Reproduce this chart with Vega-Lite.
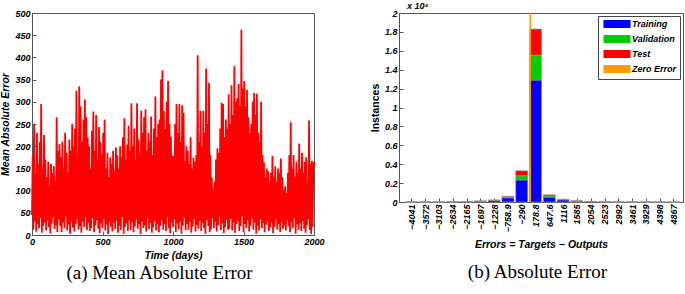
{
"$schema": "https://vega.github.io/schema/vega-lite/v6.json",
"background": "white",
"padding": {"left": 0, "top": 1, "right": 0, "bottom": 0},
"config": {
  "font": "Liberation Sans",
  "view": {"stroke": "#555", "strokeWidth": 1},
  "axis": {"labelFont": "Liberation Sans", "labelFontSize": 9, "labelFontStyle": "italic", "labelFontWeight": "bold", "labelColor": "black",
           "titleFont": "Liberation Sans", "titleFontSize": 10.5, "titleFontStyle": "italic", "titleFontWeight": "bold", "titleColor": "black",
           "grid": false, "tickSize": -4, "tickColor": "#555", "domainColor": "#555", "labelPadding": 6, "titlePadding": 4, "labelFlush": false, "labelOverlap": false}
},
"resolve": {"scale": {"color": "independent"}, "legend": {"color": "independent"}},
"spacing": 44,
"hconcat": [
{
  "width": 282, "height": 222,
  "title": {"text": "(a) Mean Absolute Error", "orient": "bottom", "font": "Liberation Serif", "fontSize": 19, "fontWeight": "normal", "fontStyle": "normal", "color": "black", "offset": 3, "anchor": "middle", "dx": -13.5},
  "data": {"values": [
{"d":0,"v":45},{"d":5,"v":180},{"d":10,"v":12},{"d":15,"v":250},{"d":20,"v":30},{"d":25,"v":140},{"d":30,"v":8},{"d":35,"v":230},{"d":40,"v":25},{"d":45,"v":160},{"d":50,"v":15},{"d":55,"v":210},{"d":60,"v":38},{"d":65,"v":295},{"d":70,"v":5},{"d":75,"v":150},{"d":80,"v":20},{"d":85,"v":225},{"d":90,"v":28},{"d":95,"v":170},
{"d":100,"v":10},{"d":105,"v":130},{"d":110,"v":32},{"d":115,"v":165},{"d":120,"v":18},{"d":125,"v":110},{"d":130,"v":4},{"d":135,"v":160},{"d":140,"v":26},{"d":145,"v":140},{"d":150,"v":40},{"d":155,"v":155},{"d":160,"v":14},{"d":165,"v":120},{"d":170,"v":22},{"d":175,"v":265},{"d":180,"v":7},{"d":185,"v":190},{"d":190,"v":35},{"d":195,"v":205},
{"d":200,"v":20},{"d":205,"v":175},{"d":210,"v":6},{"d":215,"v":210},{"d":220,"v":28},{"d":225,"v":150},{"d":230,"v":15},{"d":235,"v":230},{"d":240,"v":42},{"d":245,"v":185},{"d":250,"v":10},{"d":255,"v":140},{"d":260,"v":24},{"d":265,"v":215},{"d":270,"v":3},{"d":275,"v":190},{"d":280,"v":30},{"d":285,"v":250},{"d":290,"v":17},{"d":295,"v":200},
{"d":300,"v":8},{"d":305,"v":240},{"d":310,"v":25},{"d":315,"v":325},{"d":320,"v":35},{"d":325,"v":180},{"d":330,"v":12},{"d":335,"v":335},{"d":340,"v":20},{"d":345,"v":290},{"d":350,"v":5},{"d":355,"v":210},{"d":360,"v":30},{"d":365,"v":260},{"d":370,"v":18},{"d":375,"v":305},{"d":380,"v":40},{"d":385,"v":265},{"d":390,"v":11},{"d":395,"v":220},
{"d":400,"v":27},{"d":405,"v":200},{"d":410,"v":9},{"d":415,"v":150},{"d":420,"v":16},{"d":425,"v":235},{"d":430,"v":38},{"d":435,"v":278},{"d":440,"v":6},{"d":445,"v":190},{"d":450,"v":22},{"d":455,"v":270},{"d":460,"v":33},{"d":465,"v":170},{"d":470,"v":14},{"d":475,"v":243},{"d":480,"v":4},{"d":485,"v":210},{"d":490,"v":26},{"d":495,"v":180},
{"d":500,"v":15},{"d":505,"v":230},{"d":510,"v":36},{"d":515,"v":260},{"d":520,"v":10},{"d":525,"v":150},{"d":530,"v":24},{"d":535,"v":185},{"d":540,"v":2},{"d":545,"v":130},{"d":550,"v":30},{"d":555,"v":175},{"d":560,"v":19},{"d":565,"v":160},{"d":570,"v":8},{"d":575,"v":190},{"d":580,"v":28},{"d":585,"v":145},{"d":590,"v":13},{"d":595,"v":197},
{"d":600,"v":32},{"d":605,"v":180},{"d":610,"v":5},{"d":615,"v":150},{"d":620,"v":21},{"d":625,"v":200},{"d":630,"v":12},{"d":635,"v":175},{"d":640,"v":40},{"d":645,"v":220},{"d":650,"v":3},{"d":655,"v":263},{"d":660,"v":18},{"d":665,"v":170},{"d":670,"v":26},{"d":675,"v":204},{"d":680,"v":9},{"d":685,"v":246},{"d":690,"v":34},{"d":695,"v":190},
{"d":700,"v":11},{"d":705,"v":297},{"d":710,"v":28},{"d":715,"v":200},{"d":720,"v":6},{"d":725,"v":240},{"d":730,"v":19},{"d":735,"v":170},{"d":740,"v":35},{"d":745,"v":297},{"d":750,"v":14},{"d":755,"v":215},{"d":760,"v":24},{"d":765,"v":185},{"d":770,"v":2},{"d":775,"v":280},{"d":780,"v":30},{"d":785,"v":230},{"d":790,"v":16},{"d":795,"v":265},
{"d":800,"v":22},{"d":805,"v":283},{"d":810,"v":8},{"d":815,"v":190},{"d":820,"v":38},{"d":825,"v":230},{"d":830,"v":13},{"d":835,"v":210},{"d":840,"v":27},{"d":845,"v":267},{"d":850,"v":5},{"d":855,"v":180},{"d":860,"v":17},{"d":865,"v":240},{"d":870,"v":31},{"d":875,"v":312},{"d":880,"v":10},{"d":885,"v":220},{"d":890,"v":25},{"d":895,"v":250},
{"d":900,"v":6},{"d":905,"v":260},{"d":910,"v":20},{"d":915,"v":350},{"d":920,"v":33},{"d":925,"v":371},{"d":930,"v":12},{"d":935,"v":280},{"d":940,"v":24},{"d":945,"v":240},{"d":950,"v":9},{"d":955,"v":300},{"d":960,"v":40},{"d":965,"v":347},{"d":970,"v":15},{"d":975,"v":250},{"d":980,"v":4},{"d":985,"v":222},{"d":990,"v":29},{"d":995,"v":178},
{"d":1000,"v":18},{"d":1005,"v":178},{"d":1010,"v":35},{"d":1015,"v":250},{"d":1020,"v":7},{"d":1025,"v":295},{"d":1030,"v":26},{"d":1035,"v":230},{"d":1040,"v":13},{"d":1045,"v":295},{"d":1050,"v":30},{"d":1055,"v":210},{"d":1060,"v":3},{"d":1065,"v":292},{"d":1070,"v":21},{"d":1075,"v":275},{"d":1080,"v":38},{"d":1085,"v":166},{"d":1090,"v":10},{"d":1095,"v":200},
{"d":1100,"v":25},{"d":1105,"v":190},{"d":1110,"v":12},{"d":1115,"v":160},{"d":1120,"v":30},{"d":1125,"v":220},{"d":1130,"v":5},{"d":1135,"v":150},{"d":1140,"v":19},{"d":1145,"v":174},{"d":1150,"v":36},{"d":1155,"v":165},{"d":1160,"v":8},{"d":1165,"v":180},{"d":1170,"v":23},{"d":1175,"v":405},{"d":1180,"v":14},{"d":1185,"v":210},{"d":1190,"v":32},{"d":1195,"v":280},
{"d":1200,"v":9},{"d":1205,"v":200},{"d":1210,"v":27},{"d":1215,"v":280},{"d":1220,"v":16},{"d":1225,"v":230},{"d":1230,"v":3},{"d":1235,"v":375},{"d":1240,"v":33},{"d":1245,"v":250},{"d":1250,"v":20},{"d":1255,"v":343},{"d":1260,"v":6},{"d":1265,"v":180},{"d":1270,"v":13},{"d":1275,"v":130},{"d":1280,"v":38},{"d":1285,"v":104},{"d":1290,"v":15},{"d":1295,"v":120},
{"d":1300,"v":30},{"d":1305,"v":170},{"d":1310,"v":8},{"d":1315,"v":195},{"d":1320,"v":22},{"d":1325,"v":185},{"d":1330,"v":40},{"d":1335,"v":240},{"d":1340,"v":11},{"d":1345,"v":298},{"d":1350,"v":26},{"d":1355,"v":295},{"d":1360,"v":4},{"d":1365,"v":220},{"d":1370,"v":18},{"d":1375,"v":260},{"d":1380,"v":34},{"d":1385,"v":240},{"d":1390,"v":12},{"d":1395,"v":317},
{"d":1400,"v":14},{"d":1405,"v":250},{"d":1410,"v":36},{"d":1415,"v":337},{"d":1420,"v":10},{"d":1425,"v":270},{"d":1430,"v":28},{"d":1435,"v":380},{"d":1440,"v":5},{"d":1445,"v":300},{"d":1450,"v":24},{"d":1455,"v":308},{"d":1460,"v":32},{"d":1465,"v":340},{"d":1470,"v":9},{"d":1475,"v":290},{"d":1480,"v":20},{"d":1485,"v":462},{"d":1490,"v":42},{"d":1495,"v":330},
{"d":1500,"v":6},{"d":1505,"v":347},{"d":1510,"v":25},{"d":1515,"v":290},{"d":1520,"v":16},{"d":1525,"v":327},{"d":1530,"v":33},{"d":1535,"v":265},{"d":1540,"v":8},{"d":1545,"v":230},{"d":1550,"v":21},{"d":1555,"v":250},{"d":1560,"v":38},{"d":1565,"v":300},{"d":1570,"v":12},{"d":1575,"v":320},{"d":1580,"v":28},{"d":1585,"v":270},{"d":1590,"v":3},{"d":1595,"v":318},
{"d":1600,"v":20},{"d":1605,"v":230},{"d":1610,"v":10},{"d":1615,"v":210},{"d":1620,"v":35},{"d":1625,"v":300},{"d":1630,"v":15},{"d":1635,"v":180},{"d":1640,"v":27},{"d":1645,"v":164},{"d":1650,"v":6},{"d":1655,"v":130},{"d":1660,"v":23},{"d":1665,"v":150},{"d":1670,"v":31},{"d":1675,"v":143},{"d":1680,"v":9},{"d":1685,"v":120},{"d":1690,"v":17},{"d":1695,"v":140},
{"d":1700,"v":28},{"d":1705,"v":178},{"d":1710,"v":4},{"d":1715,"v":130},{"d":1720,"v":18},{"d":1725,"v":155},{"d":1730,"v":36},{"d":1735,"v":120},{"d":1740,"v":12},{"d":1745,"v":150},{"d":1750,"v":25},{"d":1755,"v":140},{"d":1760,"v":7},{"d":1765,"v":172},{"d":1770,"v":30},{"d":1775,"v":130},{"d":1780,"v":14},{"d":1785,"v":100},{"d":1790,"v":22},{"d":1795,"v":110},
{"d":1800,"v":10},{"d":1805,"v":95},{"d":1810,"v":33},{"d":1815,"v":140},{"d":1820,"v":20},{"d":1825,"v":180},{"d":1830,"v":6},{"d":1835,"v":254},{"d":1840,"v":29},{"d":1845,"v":150},{"d":1850,"v":15},{"d":1855,"v":180},{"d":1860,"v":38},{"d":1865,"v":130},{"d":1870,"v":3},{"d":1875,"v":165},{"d":1880,"v":24},{"d":1885,"v":140},{"d":1890,"v":12},{"d":1895,"v":206},
{"d":1900,"v":26},{"d":1905,"v":150},{"d":1910,"v":9},{"d":1915,"v":185},{"d":1920,"v":31},{"d":1925,"v":140},{"d":1930,"v":14},{"d":1935,"v":165},{"d":1940,"v":5},{"d":1945,"v":175},{"d":1950,"v":22},{"d":1955,"v":120},{"d":1960,"v":35},{"d":1965,"v":258},{"d":1970,"v":11},{"d":1975,"v":160},{"d":1980,"v":2},{"d":1985,"v":167},{"d":1990,"v":18},{"d":1995,"v":150},
{"d":2000,"v":165}
  ]},
  "mark": {"type": "line", "color": "#FF0000", "strokeWidth": 1.8},
  "encoding": {
    "x": {"field": "d", "type": "quantitative", "scale": {"domain": [0, 2000], "nice": false}, "axis": {"values": [0, 500, 1000, 1500, 2000], "format": "d", "title": "Time (days)"}},
    "y": {"field": "v", "type": "quantitative", "scale": {"domain": [0, 500], "nice": false}, "axis": {"values": [0, 50, 100, 150, 200, 250, 300, 350, 400, 450, 500], "format": "d", "title": "Mean Absolute Error"}}
  }
},
{
  "width": 284, "height": 189,
  "title": {"text": "(b) Absolute Error", "orient": "bottom", "font": "Liberation Serif", "fontSize": 19, "fontWeight": "normal", "fontStyle": "normal", "color": "black", "offset": 13, "anchor": "middle", "dx": -3.5},
  "encoding": {
    "x": {"field": "e", "type": "quantitative", "scale": {"domain": [-4290, 5020], "nice": false, "zero": false},
          "axis": {"values": [-4041, -3572, -3103, -2634, -2165, -1697, -1228, -758.9, -290, 178.8, 647.6, 1116, 1585, 2054, 2523, 2992, 3461, 3929, 4398, 4867],
                   "labelAngle": -90, "labelOverlap": false, "labelExpr": "replace(toString(datum.value), '-', '−')", "title": "Errors = Targets − Outputs", "titlePadding": 8}},
    "y": {"field": "n", "type": "quantitative", "scale": {"domain": [0, 20000], "nice": false},
          "axis": {"values": [0, 2000, 4000, 6000, 8000, 10000, 12000, 14000, 16000, 18000, 20000], "labelOverlap": false, "labelExpr": "format(datum.value / 10000, '~g')", "title": "Instances", "titleFontStyle": "normal"}}
  },
  "layer": [
    {"data": {"values": [
{"e":-4041,"s":"Training","n":5},{"e":-4041,"s":"Validation","n":1},{"e":-4041,"s":"Test","n":1},
{"e":-3572,"s":"Training","n":8},{"e":-3572,"s":"Validation","n":2},{"e":-3572,"s":"Test","n":1},
{"e":-3103,"s":"Training","n":12},{"e":-3103,"s":"Validation","n":2},{"e":-3103,"s":"Test","n":2},
{"e":-2634,"s":"Training","n":20},{"e":-2634,"s":"Validation","n":4},{"e":-2634,"s":"Test","n":3},
{"e":-2165,"s":"Training","n":35},{"e":-2165,"s":"Validation","n":6},{"e":-2165,"s":"Test","n":6},
{"e":-1697,"s":"Training","n":80},{"e":-1697,"s":"Validation","n":12},{"e":-1697,"s":"Test","n":12},
{"e":-1228,"s":"Training","n":160},{"e":-1228,"s":"Validation","n":25},{"e":-1228,"s":"Test","n":25},
{"e":-758.9,"s":"Training","n":450},{"e":-758.9,"s":"Validation","n":80},{"e":-758.9,"s":"Test","n":70},
{"e":-290,"s":"Training","n":2330},{"e":-290,"s":"Validation","n":450},{"e":-290,"s":"Test","n":520},
{"e":178.8,"s":"Training","n":12900},{"e":178.8,"s":"Validation","n":2650},{"e":178.8,"s":"Test","n":2750},
{"e":647.6,"s":"Training","n":520},{"e":647.6,"s":"Validation","n":130},{"e":647.6,"s":"Test","n":120},
{"e":1116,"s":"Training","n":220},{"e":1116,"s":"Validation","n":40},{"e":1116,"s":"Test","n":30},
{"e":1585,"s":"Training","n":90},{"e":1585,"s":"Validation","n":15},{"e":1585,"s":"Test","n":15},
{"e":2054,"s":"Training","n":45},{"e":2054,"s":"Validation","n":8},{"e":2054,"s":"Test","n":7},
{"e":2523,"s":"Training","n":20},{"e":2523,"s":"Validation","n":4},{"e":2523,"s":"Test","n":3},
{"e":2992,"s":"Training","n":10},{"e":2992,"s":"Validation","n":2},{"e":2992,"s":"Test","n":2},
{"e":3461,"s":"Training","n":6},{"e":3461,"s":"Validation","n":1},{"e":3461,"s":"Test","n":1},
{"e":3929,"s":"Training","n":4},{"e":3929,"s":"Validation","n":1},{"e":3929,"s":"Test","n":1},
{"e":4398,"s":"Training","n":3},{"e":4398,"s":"Validation","n":1},{"e":4398,"s":"Test","n":0},
{"e":4867,"s":"Training","n":2},{"e":4867,"s":"Validation","n":0},{"e":4867,"s":"Test","n":0}
     ]},
     "transform": [{"calculate": "indexof(['Training', 'Validation', 'Test'], datum.s)", "as": "k"}],
     "mark": {"type": "bar", "width": 12, "stroke": "#999", "strokeWidth": 0.6},
     "encoding": {
       "order": {"field": "k", "type": "quantitative"},
       "color": {"field": "s", "type": "nominal",
                 "scale": {"domain": ["Training", "Validation", "Test", "Zero Error"], "range": ["#0000FF", "#00CC00", "#FF0000", "#FF9900"]},
                 "legend": {"title": null, "orient": "top-right", "offset": 3, "strokeColor": "#444", "fillColor": "white", "padding": 3,
                            "labelFont": "Liberation Sans", "labelFontSize": 9, "labelFontStyle": "italic", "labelFontWeight": "bold", "labelColor": "black",
                            "symbolType": "M-3.2,-0.8H3.2V0.8H-3.2Z", "symbolSize": 64, "symbolOffset": 11, "rowPadding": 1, "labelOffset": 10,
                            "encode": {"symbols": {"update": {
                              "shape": {"signal": "datum.value === 'Zero Error' ? 'M-3.2,0H3.2' : 'M-3.2,-0.8H3.2V0.8H-3.2Z'"},
                              "fill": {"signal": "datum.value === 'Training' ? '#0000FF' : datum.value === 'Validation' ? '#00CC00' : datum.value === 'Test' ? '#FF0000' : 'transparent'"},
                              "stroke": {"signal": "datum.value === 'Zero Error' ? '#FF9900' : '#666'"},
                              "strokeWidth": {"signal": "datum.value === 'Zero Error' ? 2 : 0.6"},
                              "opacity": {"value": 1}
                            }}}}}
     }},
    {"data": {"values": [{"e": 0, "n": 0, "n2": 20000, "s": "Zero Error"}]},
     "mark": {"type": "rule", "strokeWidth": 1.5},
     "encoding": {
       "y2": {"field": "n2"},
       "color": {"field": "s", "type": "nominal"}
     }},
    {"data": {"values": [{"e": -4290, "n": 20000, "t": "x 10⁴"}]},
     "mark": {"type": "text", "align": "left", "baseline": "bottom", "dx": 3, "dy": -2, "fontStyle": "italic", "fontWeight": "bold", "fontSize": 9, "font": "Liberation Sans", "color": "black"},
     "encoding": {
       "text": {"field": "t"}
     }}
  ]
}
]
}
